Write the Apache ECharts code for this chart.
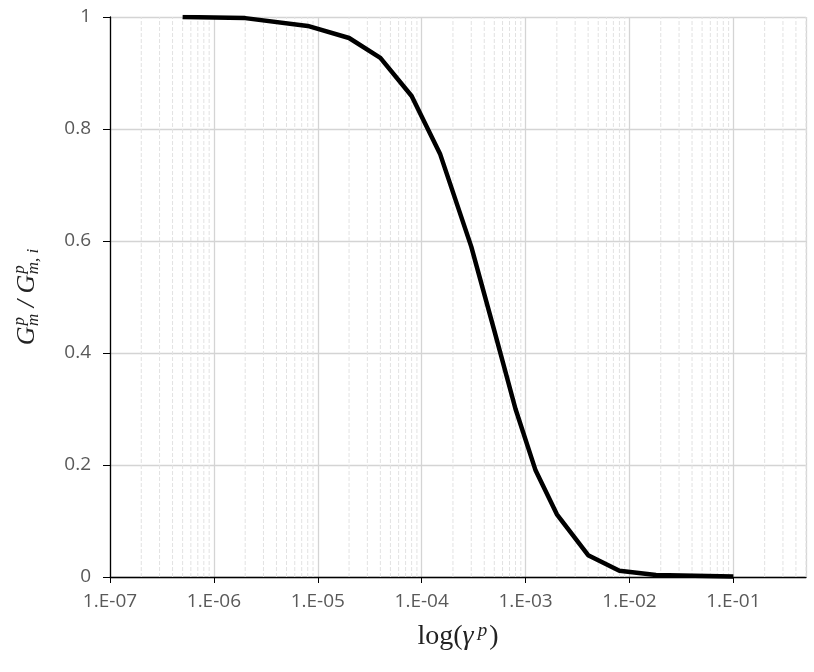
<!DOCTYPE html>
<html>
<head>
<meta charset="utf-8">
<script src="https://cdn.jsdelivr.net/npm/echarts@6/dist/echarts.min.js"></script>
<style>html,body{margin:0;padding:0;background:#fff}#c{width:814px;height:672px}</style>
</head>
<body>
<div id="c"></div>
<script>
// strain values (gamma^p)
const strain = [5e-7, 1e-6, 2e-6, 8e-6, 2e-5, 4e-5, 8e-5, 1.5e-4, 3e-4, 5e-4, 8e-4, 1.25e-3, 2e-3, 4e-3, 8e-3, 1.8e-2, 1e-1];
// normalized modulus G_m^p / G_m,i^p
const ratio = [1.0, 0.999, 0.998, 0.984, 0.9625, 0.927, 0.859, 0.756, 0.59, 0.44, 0.30, 0.19, 0.112, 0.039, 0.011, 0.0035, 0.001];
const yTicks = [0, 0.2, 0.4, 0.6, 0.8, 1];
const decades = [-7, -6, -5, -4, -3, -2, -1];
const xMin = 1e-7, xMax = 0.5;

const minorVals = [];
decades.forEach(e => { for (let k = 2; k <= 9; k++) { const v = k * Math.pow(10, e); if (v < xMax * 1.0001) minorVals.push(v); } });

const chart = echarts.init(document.getElementById('c'));
const labelFont = {fontFamily: 'Open Sans', fontSize: 19, color: '#595959'};
const minorSeries = minorVals.map(v => ({
  type: 'line', z: 1, silent: true, symbol: 'none', showSymbol: false,
  data: [[v, yTicks[0]], [v, yTicks[yTicks.length - 1]]],
  lineStyle: {color: '#e2e2e2', type: [4, 2], width: 1}
}));
chart.setOption({
  animation: false,
  grid: {left: 110, right: 8, top: 17, bottom: 95},
  xAxis: {
    type: 'log', min: xMin, max: xMax, logBase: 10,
    axisLine: {show: true, onZero: false, lineStyle: {color: '#000', width: 1.3}},
    axisTick: {show: true, length: 6, lineStyle: {color: '#000'}},
    axisLabel: Object.assign({margin: 15, showMaxLabel: false, formatter: v => {
      const e = Math.round(Math.log10(v));
      if (Math.abs(v - Math.pow(10, e)) / v > 1e-6) return '';
      return '1.E' + (e < 0 ? '-' : '+') + String(Math.abs(e)).padStart(2, '0');
    }}, labelFont),
    splitLine: {show: true, lineStyle: {color: '#d4d4d4', width: 1.3}},
    minorTick: {show: false},
    name: '{a|log(}{g|γ}{p|p}{a|)}',
    nameLocation: 'middle', nameGap: 44,
    nameTextStyle: {rich: {
      a: {fontFamily: 'Liberation Serif', fontSize: 28, color: '#222'},
      g: {fontFamily: 'Liberation Serif', fontSize: 28, fontStyle: 'italic', color: '#222', padding: [0, 3, 0, 0]},
      p: {fontFamily: 'Liberation Serif', fontSize: 19, fontStyle: 'italic', color: '#222', verticalAlign: 'top', padding: [0, 2, 12, 1]}
    }}
  },
  yAxis: {
    type: 'value', min: yTicks[0], max: yTicks[yTicks.length - 1], interval: 0.2,
    axisLine: {show: true, lineStyle: {color: '#000', width: 1.3}},
    axisTick: {show: true, length: 7, lineStyle: {color: '#000'}},
    axisLabel: Object.assign({margin: 19, formatter: v => (v === 0 || v === 1) ? String(v) : v.toFixed(1)}, labelFont),
    splitLine: {show: true, lineStyle: {color: '#d4d4d4', width: 1.3}},
    name: '{g|G}{s|p}{s2|m}{g| / G}{s|p}{s2|m, i}',
    nameLocation: 'middle', nameGap: 66, nameRotate: 90,
    nameTextStyle: {rich: {
      g: {fontFamily: 'Liberation Serif', fontSize: 26, fontStyle: 'italic', color: '#222'},
      s: {fontFamily: 'Liberation Serif', fontSize: 17, fontStyle: 'italic', color: '#222', padding: [0, 0, 16, 1]},
      s2: {fontFamily: 'Liberation Serif', fontSize: 17, fontStyle: 'italic', color: '#222', padding: [12, 0, 0, -9]}
    }}
  },
  series: minorSeries.concat([
    {
      type: 'line', z: 5,
      data: strain.map((x, i) => [x, ratio[i]]),
      showSymbol: false, symbol: 'none',
      lineStyle: {color: '#000', width: 4.5},
      smooth: false
    }
  ])
});
</script>
</body>
</html>
